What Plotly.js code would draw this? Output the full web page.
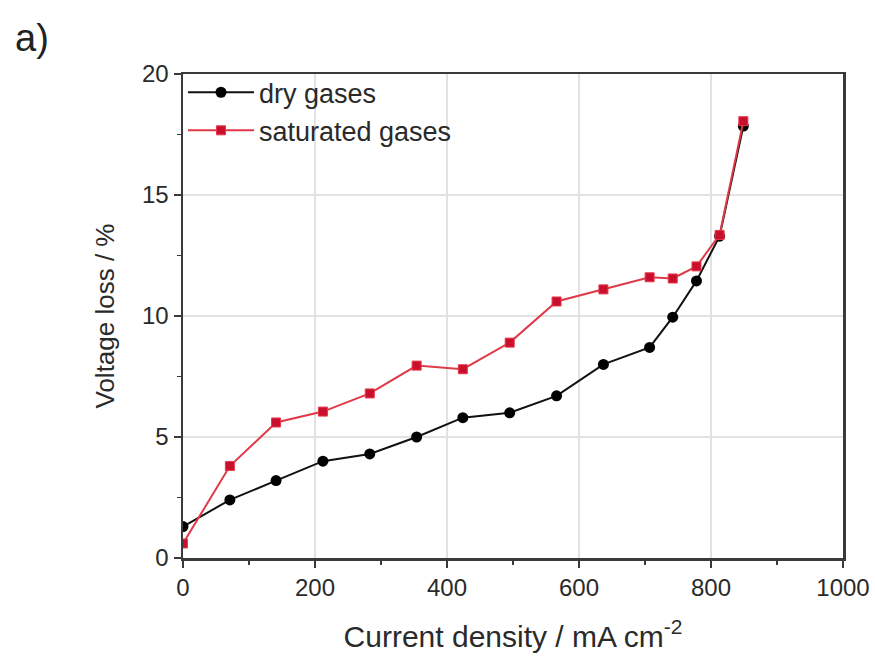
<!DOCTYPE html>
<html>
<head>
<meta charset="utf-8">
<script src="https://cdn.plot.ly/plotly-3.0.1.min.js"></script>
<style>html,body{margin:0;padding:0;background:#fff;}#chart{width:875px;height:656px;}</style>
</head>
<body>
<div id="chart"></div>
<script>
// Current density (mA cm^-2)
const currentDry = [0, 71, 141, 212, 283, 354, 424, 495, 566, 637, 707, 742, 778, 813, 849];
const lossDry    = [1.3, 2.4, 3.2, 4.0, 4.3, 5.0, 5.8, 6.0, 6.7, 8.0, 8.7, 9.95, 11.45, 13.3, 17.85];
const currentSat = [0, 71, 141, 212, 283, 354, 424, 495, 566, 637, 707, 742, 778, 813, 849];
const lossSat    = [0.6, 3.8, 5.6, 6.05, 6.8, 7.95, 7.8, 8.9, 10.6, 11.1, 11.6, 11.55, 12.05, 13.35, 18.05];
const seriesNames = ["dry gases", "saturated gases"];
const xTickVals = [0, 200, 400, 600, 800, 1000];
const yTickVals = [0, 5, 10, 15, 20];

const font = "Liberation Sans, Arial, sans-serif";

const traces = [
  {
    x: currentDry, y: lossDry, name: seriesNames[0], type: "scatter", mode: "lines+markers",
    line: {color: "#111111", width: 2},
    marker: {symbol: "circle", size: 11, color: "#000000"}
  },
  {
    x: currentSat, y: lossSat, name: seriesNames[1], type: "scatter", mode: "lines+markers",
    line: {color: "#e03a48", width: 2},
    marker: {symbol: "square", size: 9, color: "#c8102e", line: {color: "#e8384a", width: 1}}
  }
];

const axisCommon = {
  showline: true, linecolor: "#3a3a3a", linewidth: 2.5, mirror: true,
  ticks: "outside", ticklen: 7, tickwidth: 2, tickcolor: "#3a3a3a",
  showgrid: true, gridcolor: "#e2e2e2", gridwidth: 1.5,
  zeroline: false,
  tickfont: {family: font, size: 24, color: "#2a2a2a"}
};

const layout = {
  width: 875, height: 656,
  margin: {l: 183, r: 32, t: 74, b: 98},
  paper_bgcolor: "#ffffff", plot_bgcolor: "#ffffff",
  showlegend: true,
  legend: {
    x: 0.0, y: 1.012, xanchor: "left", yanchor: "top",
    bgcolor: "rgba(0,0,0,0)", borderwidth: 0,
    font: {family: font, size: 27, color: "#2a2a2a"},
    tracegroupgap: 0, itemwidth: 66
  },
  xaxis: Object.assign({}, axisCommon, {
    range: [0, 1000], tickvals: xTickVals,
    minor: {dtick: 100, tick0: 0, ticks: "outside", ticklen: 4, tickwidth: 1.5, tickcolor: "#3a3a3a", showgrid: false},
    title: {text: "Current density / mA cm<sup>-2</sup>", font: {family: font, size: 30, color: "#2a2a2a"}, standoff: 26}
  }),
  yaxis: Object.assign({}, axisCommon, {
    range: [0, 20], tickvals: yTickVals,
    minor: {dtick: 2.5, tick0: 0, ticks: "outside", ticklen: 4, tickwidth: 1.5, tickcolor: "#3a3a3a", showgrid: false},
    title: {text: "Voltage loss / %", font: {family: font, size: 26, color: "#2a2a2a"}, standoff: 20}
  }),
  annotations: [
    {text: "a)", xref: "paper", yref: "paper", x: -0.2576, y: 1.0744, xanchor: "left", yanchor: "middle",
     showarrow: false, font: {family: font, size: 38, color: "#222222"}}
  ]
};

Plotly.newPlot("chart", traces, layout, {displayModeBar: false, staticPlot: true});
</script>
</body>
</html>
